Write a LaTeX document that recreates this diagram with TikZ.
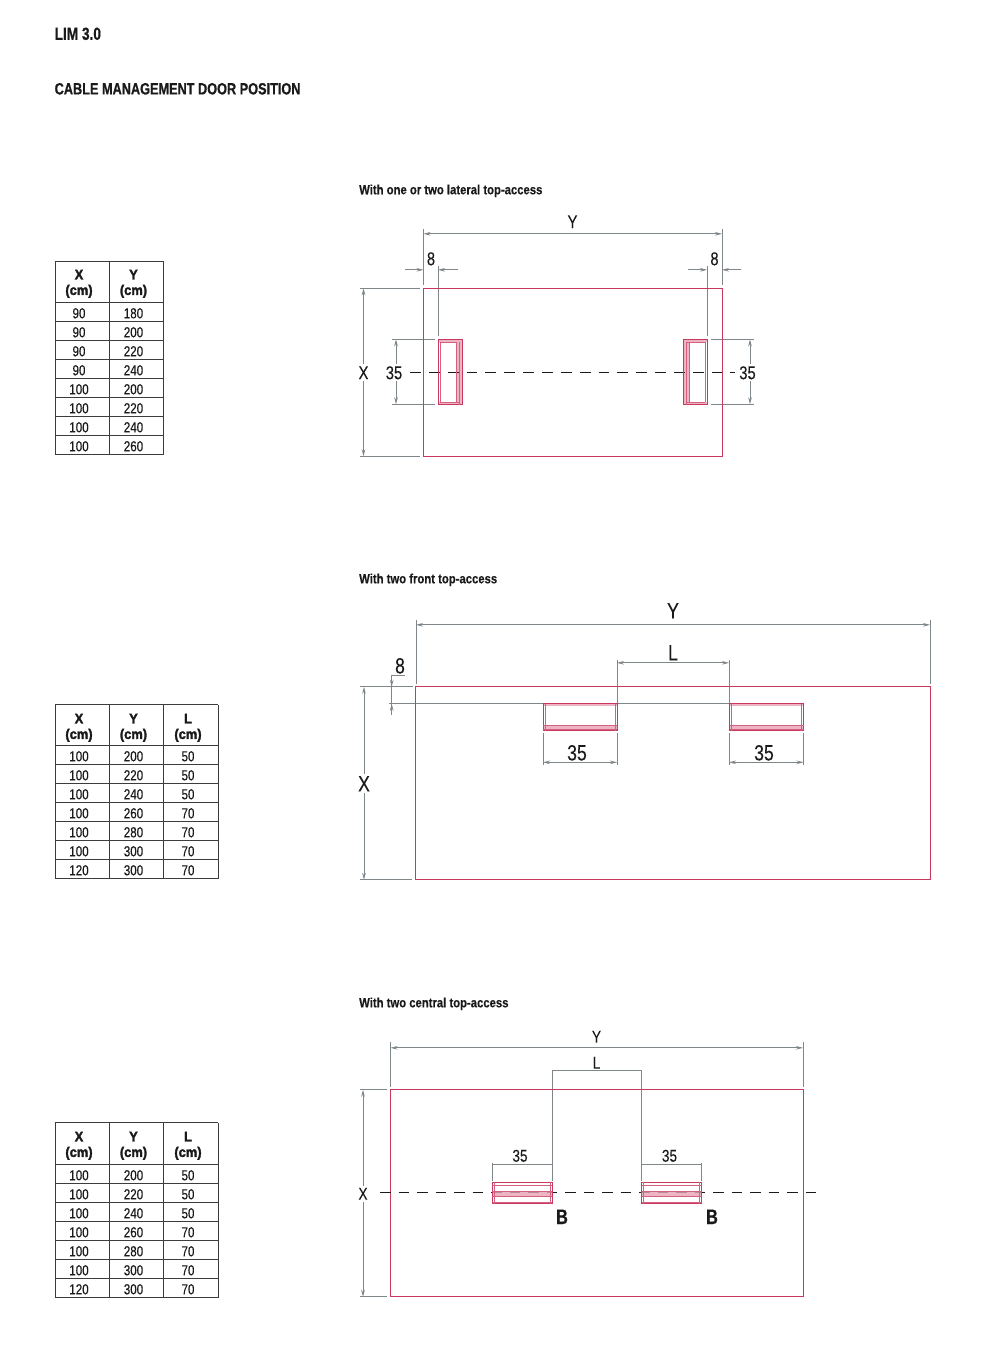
\documentclass[tikz,border=0pt]{standalone}
\usepackage{fontspec}
\setmainfont{Liberation Sans}[FakeStretch=0.8,FakeBold=0.15]
\newfontfamily\boldcond{Liberation Sans}[FakeStretch=0.78,FakeBold=0.6,UprightFont=* Bold]
\newfontfamily\subcond{Liberation Sans}[FakeStretch=0.843,FakeBold=0.3,UprightFont=* Bold]
\newfontfamily\headfont{Liberation Sans}[FakeStretch=0.92,FakeBold=2,UprightFont=* Bold]
\usetikzlibrary{arrows.meta}
\definecolor{crim}{HTML}{C9395F}
\definecolor{crimlight}{HTML}{EDB4C3}
\definecolor{dimgrey}{HTML}{80878B}
\definecolor{ink}{HTML}{1A1A1A}
\definecolor{faintdash}{HTML}{B98A98}
\tikzset{
  dimline/.style={draw=dimgrey,line width=0.9pt,{Stealth[length=7pt,width=3.6pt]}-{Stealth[length=7pt,width=3.6pt]}},
  arrowin/.style={draw=dimgrey,line width=0.9pt,-{Stealth[length=7pt,width=3.6pt]}},
  ext/.style={draw=dimgrey,line width=0.9pt},
  axisdashA/.style={draw=ink,line width=0.8pt,dash pattern=on 10.85pt off 8pt},
  axisdashB/.style={draw=ink,line width=0.8pt,dash pattern=on 10.5pt off 8pt},
  topbox/.style={draw=crim,line width=0.9pt},
  door/.style={draw=crim,line width=0.8pt},
  doorin/.style={draw=crim!80!white,line width=0.55pt},
  doorfill/.style={fill=crimlight},
  grid/.style={draw=ink!85,line width=0.9pt},
  num/.style={inner sep=0pt,text=ink,yshift=-1pt,font=\fontsize{14.5}{14.5}\selectfont},
  hd/.style={inner sep=0pt,text=ink,align=center,yshift=-1pt,font=\fontsize{14}{15.5}\selectfont\headfont},
  title/.style={inner sep=0pt,anchor=west,text=ink,font=\fontsize{16.3}{16.3}\selectfont\boldcond},
  titlebig/.style={title,font=\fontsize{17.5}{17.5}\selectfont\boldcond},
  sub/.style={inner sep=0pt,anchor=west,text=ink,yshift=-1pt,font=\fontsize{13.4}{13.4}\selectfont\subcond},
  lab/.style={inner sep=0pt,text=ink,font=\fontsize{18.5}{18.5}\selectfont},
  labbig/.style={inner sep=0pt,text=ink,font=\fontsize{22}{22}\selectfont},
  labsm/.style={inner sep=0pt,text=ink,font=\fontsize{17}{17}\selectfont},
  labb/.style={inner sep=0pt,text=ink,font=\fontsize{21}{21}\selectfont\boldcond},
  gap/.style={fill=white,inner sep=2pt},
}
\newcommand{\hdimen}[4]{\coordinate (#1a) at (#2,#4);\coordinate (#1b) at (#3,#4);\draw[dimline] (#1a) -- (#1b);}
\newcommand{\vdimen}[4]{\coordinate (#1a) at (#2,#3);\coordinate (#1b) at (#2,#4);\draw[dimline] (#1a) -- (#1b);}
\newcommand{\extline}[5]{\coordinate (#1a) at (#2,#3);\coordinate (#1b) at (#4,#5);\draw[ext] (#1a) -- (#1b);}
\newcommand{\tablegrid}[4]{%
  \pgfmathsetmacro{\tbot}{#3+19*#4}%
  \foreach \cx in {#1}{\draw[grid] (\cx,#2) -- (\cx,\tbot);}%
  \draw[grid] (55,#2) -- (\lastx,#2);
  \foreach \r in {0,...,#4}{\pgfmathsetmacro{\ry}{#3+19*\r}\draw[grid] (55,\ry) -- (\lastx,\ry);}%
}
\begin{document}
\begin{tikzpicture}[x=1pt,y=-1pt]
\useasboundingbox (0,0.2) rectangle ++(994,1360);
\fill[white] (0,0) rectangle (995,1361);

\node[titlebig] (t0) at (54.5,34) {LIM 3.0};
\node[title] (t1) at (54.5,89) {CABLE MANAGEMENT DOOR POSITION};
\node[sub] (s1) at (359,190) {With one or two lateral top-access};
\node[sub] (s2) at (359,579) {With two front top-access};
\node[sub] (s3) at (359,1003) {With two central top-access};

%% TABLE 1
\def\lastx{163.5}
\tablegrid{55,109,163.5}{262}{303}{8}
\node[hd] (a1) at (79,283) {X\\(cm)};
\node[hd] (a2) at (133.5,283) {Y\\(cm)};
\foreach \xv/\yv [count=\i] in {90/180,90/200,90/220,90/240,100/200,100/220,100/240,100/260}{
  \pgfmathsetmacro{\ry}{303+19*\i-9.5}
  \node[num] (ax\i) at (79,\ry) {\xv};
  \node[num] (ay\i) at (133.5,\ry) {\yv};
}
%% TABLE 2
\def\lastx{218}
\tablegrid{55,109,163.5,218}{705}{746}{7}
\node[hd] (b1) at (79,727) {X\\(cm)};
\node[hd] (b2) at (133.5,727) {Y\\(cm)};
\node[hd] (b3) at (188,727) {L\\(cm)};
\foreach \xv/\yv/\lv [count=\i] in {100/200/50,100/220/50,100/240/50,100/260/70,100/280/70,100/300/70,120/300/70}{
  \pgfmathsetmacro{\ry}{746+19*\i-9.5}
  \node[num] (bx\i) at (79,\ry) {\xv};
  \node[num] (by\i) at (133.5,\ry) {\yv};
  \node[num] (bl\i) at (188,\ry) {\lv};
}
%% TABLE 3
\tablegrid{55,109,163.5,218}{1123}{1165}{7}
\node[hd] (c1) at (79,1145) {X\\(cm)};
\node[hd] (c2) at (133.5,1145) {Y\\(cm)};
\node[hd] (c3) at (188,1145) {L\\(cm)};
\foreach \xv/\yv/\lv [count=\i] in {100/200/50,100/220/50,100/240/50,100/260/70,100/280/70,100/300/70,120/300/70}{
  \pgfmathsetmacro{\ry}{1165+19*\i-9.5}
  \node[num] (cx\i) at (79,\ry) {\xv};
  \node[num] (cy\i) at (133.5,\ry) {\yv};
  \node[num] (cl\i) at (188,\ry) {\lv};
}

%% DRAWING 1
\extline{d1a}{423.5}{229}{423.5}{285}
\extline{d1b}{722}{229}{722}{285}
\hdimen{d1y}{423.5}{722}{234}
\node[lab] at (572.5,222) {Y};
\coordinate (d1l0) at (405,270); \coordinate (d1l1) at (423.5,270);
\coordinate (d1l2) at (458,270); \coordinate (d1l3) at (438,270);
\draw[arrowin] (d1l0) -- (d1l1);
\draw[arrowin] (d1l2) -- (d1l3);
\coordinate (d1r0) at (688,270); \coordinate (d1r1) at (707,270);
\coordinate (d1r2) at (741,270); \coordinate (d1r3) at (722,270);
\draw[arrowin] (d1r0) -- (d1r1);
\draw[arrowin] (d1r2) -- (d1r3);
\extline{d1c}{438}{266}{438}{336}
\extline{d1d}{707}{266}{707}{336}
\node[lab] at (431,259) {8};
\node[lab] at (714.5,259) {8};
\extline{d1e}{360}{288.5}{420}{288.5}
\extline{d1f}{360}{456.5}{420}{456.5}
\vdimen{d1x}{363.5}{288.5}{456.5}
\extline{d1g}{392}{339.5}{435}{339.5}
\extline{d1h}{392}{404.5}{435}{404.5}
\vdimen{d1p}{396}{339.5}{404.5}
\extline{d1i}{711}{339.5}{754}{339.5}
\extline{d1j}{711}{404.5}{754}{404.5}
\vdimen{d1q}{750}{339.5}{404.5}
\node[lab,gap] at (363.5,373) {X};
\node[lab,gap] at (394,373) {35};
\node[lab,gap] at (747.5,373) {35};
\draw[topbox] (423.5,289) rectangle (722,456.5);
\fill[doorfill] (438,340) rectangle (462,342);
\fill[doorfill] (438,402) rectangle (462,405);
\fill[doorfill] (456.5,342) rectangle (462,402);
\fill[doorfill] (683.5,342) rectangle (689.5,402);
\fill[doorfill] (683.5,340) rectangle (707.5,342);
\fill[doorfill] (683.5,402) rectangle (707.5,405);
\coordinate (d1m0) at (410,372.5); \coordinate (d1m1) at (735,372.5);
\draw[axisdashA] (d1m0) -- (d1m1);
\draw[door] (438,340) rectangle (462,405);
\draw[doorin] (440,342) -- (456.5,342) (440,342) -- (440,402) (456.5,342) -- (456.5,402) (459,342) -- (459,405) (440,402) -- (459,402);
\draw[door] (683.5,340) rectangle (707.5,405);
\draw[doorin] (686,342) -- (705,342) (686,342) -- (686,405) (689.5,342) -- (689.5,402) (705,342) -- (705,402) (686,402) -- (705,402);

%% DRAWING 2
\extline{d2a}{416}{620}{416}{684}
\extline{d2b}{930}{620}{930}{684}
\hdimen{d2y}{416}{930}{625}
\node[labbig] at (673,611) {Y};
\extline{d2c}{617}{660}{617}{704}
\extline{d2d}{729}{660}{729}{704}
\hdimen{d2l}{617}{729}{663}
\node[labbig] at (673,653) {L};
\extline{d2e}{360}{687}{413}{687}
\extline{d2f}{360}{880}{412}{880}
\vdimen{d2x}{364}{687}{880}
\node[labbig,gap] at (364,784) {X};
\coordinate (d2g0) at (405,676); \coordinate (d2g1) at (391.7,676); \coordinate (d2g2) at (391.7,715);
\draw[ext] (d2g0) -- (d2g1) -- (d2g2);
\extline{d2h}{389}{704}{803}{704}
\draw[arrowin] (d2g1) -- (391.7,687);
\draw[arrowin] (d2g2) -- (391.7,704);
\node[labbig] at (400,666) {8};
\extline{d2i}{543}{733}{543}{765}
\extline{d2j}{617}{733}{617}{765}
\hdimen{d2p}{543}{617}{762.5}
\node[labbig] at (577,753) {35};
\extline{d2k}{729}{733}{729}{765}
\extline{d2m}{803.5}{733}{803.5}{765}
\hdimen{d2q}{729}{803.5}{762.5}
\node[labbig] at (764,753) {35};
\draw[topbox] (415.5,687) rectangle (930,880);
\foreach \dx in {543,729.5}{
  \fill[doorfill] (\dx,704) rectangle ++(74,2);
  \fill[doorfill] (\dx,725) rectangle ++(74,6);
  \draw[door] (\dx,704) rectangle ++(74,27);
  \draw[doorin] (\dx+2,704) -- ++(0,27) (\dx+72,704) -- ++(0,27) (\dx,725) -- ++(74,0) (\dx,729) -- ++(74,0);
}

%% DRAWING 3
\extline{d3a}{390.5}{1042}{390.5}{1087}
\extline{d3b}{803}{1042}{803}{1087}
\hdimen{d3y}{390.5}{803}{1048}
\node[labsm] at (596.5,1037) {Y};
\extline{d3c}{552}{1070}{552}{1181}
\extline{d3d}{641.5}{1070}{641.5}{1181}
\coordinate (d3la) at (552,1071); \coordinate (d3lb) at (641.5,1071);
\draw[ext] (d3la) -- (d3lb);
\node[labsm] at (596.5,1063) {L};
\extline{d3e}{492}{1163}{492}{1181}
\extline{d3f}{701.5}{1163}{701.5}{1181}
\coordinate (d3pa) at (492,1164.5); \coordinate (d3pb) at (552,1164.5);
\draw[ext] (d3pa) -- (d3pb);
\coordinate (d3qa) at (641.5,1164.5); \coordinate (d3qb) at (701.5,1164.5);
\draw[ext] (d3qa) -- (d3qb);
\node[labsm] at (520,1156) {35};
\node[labsm] at (669.5,1156) {35};
\extline{d3g}{360}{1090}{387}{1090}
\extline{d3h}{360}{1297}{387}{1297}
\vdimen{d3x}{363}{1090}{1297}
\node[labsm,gap] at (363,1194) {X};
\draw[topbox] (390,1090) rectangle (803.5,1297);
\coordinate (d3m0) at (380,1193); \coordinate (d3m1) at (815.5,1193);
\draw[axisdashB] (d3m0) -- (d3m1);
\foreach \dx in {492,641.5}{
  \fill[crimlight] (\dx,1191) rectangle ++(60,5);
  \begin{scope}
    \clip (\dx,1183) rectangle ++(60,20);
    \draw[axisdashB,draw=faintdash] (d3m0) -- (d3m1);
  \end{scope}
  \draw[door] (\dx,1182.5) rectangle ++(60,21.5);
  \draw[doorin] (\dx+2,1182.5) -- ++(0,21.5) (\dx+58,1182.5) -- ++(0,21.5) (\dx,1185) -- ++(60,0) (\dx,1202) -- ++(60,0) (\dx,1191) -- ++(60,0) (\dx,1196) -- ++(60,0);
}
\node[labb] at (562,1217) {B};
\node[labb] at (712,1217) {B};
\end{tikzpicture}
\end{document}
